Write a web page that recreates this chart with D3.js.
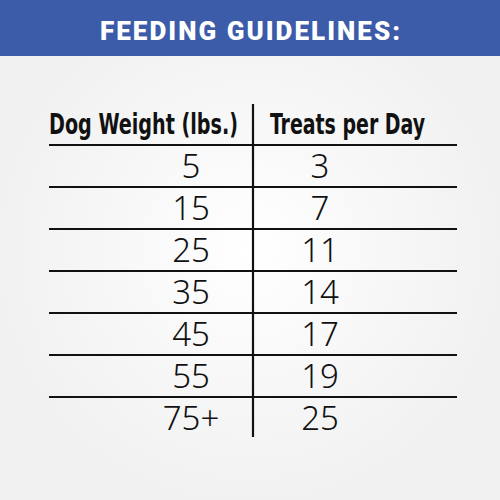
<!DOCTYPE html>
<html><head><meta charset="utf-8">
<script src="https://cdn.jsdelivr.net/npm/d3@7"></script>
<style>body{margin:0}svg{display:block}</style></head>
<body><svg id="c" width="500" height="500"></svg>
<script>
const title = "FEEDING GUIDELINES:";
const headers = ["Dog Weight (lbs.)", "Treats per Day"];
const weights = ["5", "15", "25", "35", "45", "55", "75+"];
const treats = [3, 7, 11, 14, 17, 19, 25];

const svg = d3.select("#c");
const bg = svg.append("defs").append("radialGradient").attr("id","g");
bg.append("stop").attr("offset","0%").attr("stop-color","#ffffff");
bg.append("stop").attr("offset","100%").attr("stop-color","#f1f1f1");
svg.append("rect").attr("width",500).attr("height",500).attr("fill","url(#g)");
svg.append("rect").attr("width",500).attr("height",56).attr("fill","#3c5ba8");
svg.append("text").attr("x",250).attr("y",40).attr("text-anchor","middle")
  .attr("fill","#fff").attr("font-family","Roboto, sans-serif").attr("font-weight",900)
  .attr("font-size",26).attr("textLength",300).text(title);

const x0 = 49, x1 = 457, xm = 253;
const y = d3.scaleBand().domain(d3.range(weights.length)).range([145, 439]);
const head = "'Liberation Sans Narrow','DejaVu Sans Condensed',sans-serif";
svg.append("text").attr("x",49).attr("y",134).attr("font-family",head).attr("font-weight","bold")
  .attr("font-size",28).attr("textLength",189).attr("lengthAdjust","spacingAndGlyphs").attr("fill","#111").text(headers[0]);
svg.append("text").attr("x",270).attr("y",134).attr("font-family",head).attr("font-weight","bold")
  .attr("font-size",28).attr("textLength",155).attr("lengthAdjust","spacingAndGlyphs").attr("fill","#111").text(headers[1]);

const rows = d3.range(weights.length);
svg.selectAll("line.h").data(rows).join("line")
  .attr("x1",x0).attr("x2",x1).attr("y1",d=>y(d)).attr("y2",d=>y(d))
  .attr("stroke","#111").attr("stroke-width",2.2);
svg.append("line").attr("x1",xm).attr("x2",xm).attr("y1",104).attr("y2",437)
  .attr("stroke","#111").attr("stroke-width",2.2);
const num = "'Noto Sans','Open Sans',sans-serif";
svg.selectAll("text.w").data(weights).join("text").attr("class","w")
  .attr("x",191).attr("y",(d,i)=>y(i)+y.bandwidth()/2+12).attr("text-anchor","middle")
  .attr("font-family",num).attr("font-weight",300).attr("font-size",33).attr("fill","#111").text(d=>d);
svg.selectAll("text.t").data(treats).join("text").attr("class","t")
  .attr("x",320).attr("y",(d,i)=>y(i)+y.bandwidth()/2+12).attr("text-anchor","middle")
  .attr("font-family",num).attr("font-weight",300).attr("font-size",33).attr("fill","#111").text(d=>d);
</script></body></html>
